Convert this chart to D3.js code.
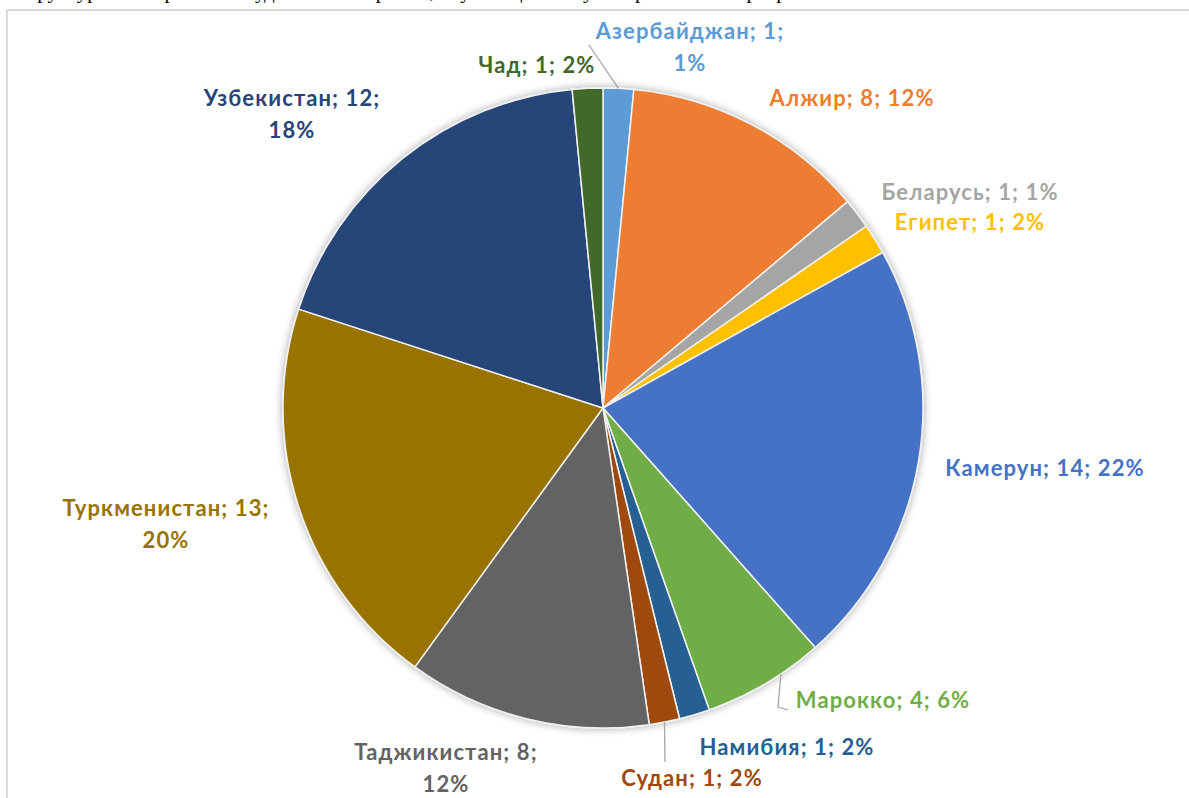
<!DOCTYPE html>
<html>
<head>
<meta charset="utf-8">
<script src="https://cdn.jsdelivr.net/npm/d3@7"></script>
<style>
  body { margin: 0; background: #fff; }
  svg { display: block; }
  .lbl { font-family: Lato, "Open Sans", sans-serif; font-weight: bold; font-size: 22px; letter-spacing: 1.1px; }
</style>
</head>
<body>
<svg width="1189" height="798"></svg>
<script>
// data
var countries = ["Азербайджан", "Алжир", "Беларусь", "Египет", "Камерун", "Марокко",
                 "Намибия", "Судан", "Таджикистан", "Туркменистан", "Узбекистан", "Чад"];
var counts = [1, 8, 1, 1, 14, 4, 1, 1, 8, 13, 12, 1];
var percents = ["1%", "12%", "1%", "2%", "22%", "6%", "2%", "2%", "12%", "20%", "18%", "2%"];
var colors = ["#5B9BD5", "#ED7D31", "#A5A5A5", "#FFC000", "#4472C4", "#70AD47",
              "#255E91", "#9E480E", "#636363", "#997300", "#264478", "#43682B"];

// label layout: offset of label centre from pie centre, and whether it wraps
var labelOffsets = [[87, -361], [249, -310], [367, -216], [367, -186], [442, 60], [280, 292],
                    [184, 339], [89, 370], [-157, 360], [-437, 116], [-311, -294], [-66, -343]];
var wraps = [true, false, false, false, false, false, false, false, true, true, true, false];

var svg = d3.select("svg");

// cut-off line of the document text above the chart
svg.append("text")
  .attr("x", 14).attr("y", -2)
  .attr("font-family", "Liberation Serif, Times New Roman, serif")
  .attr("font-size", 21)
  .text("Структура иностранных студентов по странам, обучающихся в университете по программам");

// chart frame
svg.append("rect")
  .attr("x", 7).attr("y", 10)
  .attr("width", 1200).attr("height", 820)
  .attr("fill", "#fff")
  .attr("stroke", "#d9d9d9").attr("stroke-width", 2);

var defs = svg.append("defs");
var filt = defs.append("filter").attr("id", "shadow")
  .attr("x", "-10%").attr("y", "-10%").attr("width", "120%").attr("height", "120%");
filt.append("feGaussianBlur").attr("in", "SourceAlpha").attr("stdDeviation", 4);
filt.append("feOffset").attr("dx", 0).attr("dy", 0).attr("result", "blur");
filt.append("feComponentTransfer").append("feFuncA").attr("type", "linear").attr("slope", 0.35);
var merge = filt.append("feMerge");
merge.append("feMergeNode");
merge.append("feMergeNode").attr("in", "SourceGraphic");

var cx = 603, cy = 408, radius = 320;

var pie = d3.pie().sort(null).value(function(d) { return d; });
var arc = d3.arc().innerRadius(0).outerRadius(radius);
var arcs = pie(counts);

var g = svg.append("g").attr("transform", "translate(" + cx + "," + cy + ")");

var slices = g.append("g").attr("filter", "url(#shadow)");
slices.selectAll("path")
  .data(arcs)
  .enter().append("path")
    .attr("d", arc)
    .attr("fill", function(d, i) { return colors[i]; })
    .attr("stroke", "#f2f2f2")
    .attr("stroke-width", 1.5);

// leader lines (Азербайджан, Марокко, Судан)
var leader = d3.line();
function edgePoint(i, frac) {
  var a = arcs[i].startAngle + (arcs[i].endAngle - arcs[i].startAngle) * frac;
  return [Math.sin(a) * radius, -Math.cos(a) * radius];
}
var leaders = [
  [[-14, -363], edgePoint(0, 0.5)],
  [[185, 302], [175, 299], edgePoint(5, 0.35)],
  [[62, 354], edgePoint(7, 0.5)]
];
g.selectAll("path.leader")
  .data(leaders)
  .enter().append("path")
    .attr("class", "leader")
    .attr("d", leader)
    .attr("fill", "none")
    .attr("stroke", "#a6a6a6")
    .attr("stroke-width", 1.3);

// labels
var labels = g.selectAll("text.lbl")
  .data(arcs)
  .enter().append("text")
    .attr("class", "lbl")
    .attr("text-anchor", "middle")
    .attr("fill", function(d, i) { return colors[i]; })
    .attr("transform", function(d, i) {
      return "translate(" + labelOffsets[i][0] + "," + labelOffsets[i][1] + ")";
    });

labels.each(function(d, i) {
  var t = d3.select(this);
  if (wraps[i]) {
    t.append("tspan").attr("x", 0).attr("y", -16).attr("dy", "0.35em")
      .text(countries[i] + "; " + counts[i] + ";");
    t.append("tspan").attr("x", 0).attr("y", 16).attr("dy", "0.35em")
      .text(percents[i]);
  } else {
    t.append("tspan").attr("x", 0).attr("y", 0).attr("dy", "0.35em")
      .text(countries[i] + "; " + counts[i] + "; " + percents[i]);
  }
});
</script>
</body>
</html>
